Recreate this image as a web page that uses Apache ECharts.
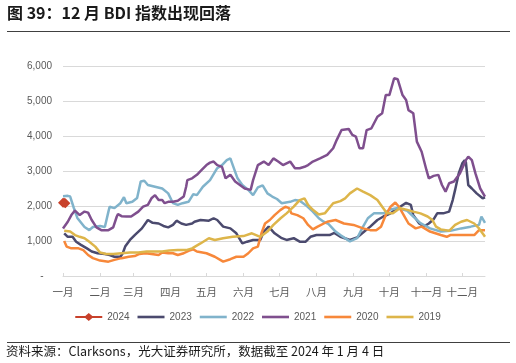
<!DOCTYPE html>
<html><head><meta charset="utf-8">
<script src="https://cdn.jsdelivr.net/npm/echarts@6/dist/echarts.min.js"></script>
<style>html,body{margin:0;padding:0;background:#fff}#c{width:516px;height:363px}</style>
</head><body><div id="c"></div>
<script>
// x values are day-of-year offsets (0 = 1 Jan)
const monthLabels = ['一月','二月','三月','四月','五月','六月','七月','八月','九月','十月','十一月','十二月'];
const monthStarts = [0,31,59,90,120,151,181,212,243,273,304,334];
const seriesNames = ['2024','2023','2022','2021','2020','2019'];
const seriesColors = ['#C8412B','#4B4A6E','#80B3CB','#7F4F8E','#F7883A','#DDB54A'];

const d2024 = [[0,2094],[1,2090],[2,2082]];
const d2023 = [[1,1220],[4,1120],[8,1120],[11,980],[15,890],[20,790],[24,700],[29,650],[35,630],[39,600],[43,550],[48,550],[50,650],[52,840],[56,1030],[60,1170],[66,1360],[71,1600],[75,1520],[80,1500],[84,1430],[88,1390],[92,1460],[95,1580],[99,1500],[103,1460],[108,1500],[110,1550],[115,1600],[122,1580],[126,1650],[129,1600],[134,1410],[140,1360],[145,1220],[150,930],[154,980],[159,1030],[165,1030],[168,1270],[172,1410],[177,1220],[183,1080],[187,1030],[193,1080],[198,980],[203,980],[207,1120],[212,1170],[218,1170],[223,1170],[227,1230],[232,1120],[240,1030],[246,1100],[252,1270],[257,1410],[263,1600],[268,1700],[274,1790],[278,1890],[282,1980],[287,2090],[291,2030],[293,1740],[298,1500],[302,1420],[306,1500],[310,1620],[313,1790],[318,1790],[323,1840],[326,2170],[328,2460],[331,2930],[334,3220],[336,3310],[337,3250],[339,2600],[342,2500],[346,2360],[351,2220],[353,2250]];
const d2022 = [[0,2280],[4,2290],[6,2270],[9,1950],[12,1660],[18,1400],[22,1310],[25,1400],[31,1430],[35,1400],[38,1840],[39,1980],[43,1940],[48,2080],[51,2250],[53,2080],[58,2120],[62,2230],[65,2700],[68,2720],[71,2600],[77,2550],[83,2500],[88,2360],[92,2080],[96,2030],[100,2080],[105,2120],[109,2340],[112,2310],[117,2550],[123,2740],[129,3080],[133,3170],[137,3310],[140,3360],[142,3170],[146,2790],[150,2600],[155,2460],[159,2310],[163,2530],[167,2590],[171,2360],[175,2270],[179,2200],[183,2080],[190,2120],[194,2170],[198,2150],[204,2000],[209,1840],[214,1650],[218,1550],[222,1490],[228,1270],[232,1170],[240,990],[246,1080],[251,1410],[255,1650],[260,1790],[268,1790],[274,1900],[280,1940],[288,1860],[293,1700],[299,1510],[307,1360],[316,1270],[324,1290],[333,1360],[341,1410],[348,1460],[350,1700],[353,1520]];
const d2021 = [[0,1360],[1,1390],[4,1550],[7,1740],[10,1870],[14,1740],[18,1840],[21,1810],[24,1600],[28,1390],[32,1310],[38,1310],[42,1390],[45,1700],[46,1770],[49,1710],[53,1700],[57,1700],[63,1840],[67,1980],[71,2030],[74,2220],[77,2310],[80,2170],[83,2170],[85,2080],[88,2120],[92,2120],[96,2150],[101,2270],[103,2550],[104,2740],[108,2790],[112,2890],[116,3030],[120,3170],[123,3240],[126,3270],[129,3170],[133,3120],[136,2790],[140,2890],[144,2700],[148,2600],[152,2500],[157,2460],[159,2740],[163,3170],[168,3270],[172,3170],[176,3360],[180,3270],[184,3170],[190,3270],[194,3080],[198,3080],[202,3120],[205,3170],[209,3270],[215,3360],[221,3460],[226,3650],[229,3890],[233,4170],[239,4200],[242,4030],[245,3980],[248,3650],[251,3650],[254,4170],[258,4220],[263,4550],[267,4650],[270,5170],[273,5170],[277,5650],[280,5620],[284,5170],[287,5030],[289,4740],[293,4650],[296,3840],[300,3550],[304,3030],[306,2790],[310,2860],[314,2890],[317,2600],[320,2410],[323,2650],[327,2700],[332,2930],[337,3310],[339,3410],[342,3310],[345,2930],[349,2500],[353,2270]];
const d2020 = [[1,1000],[3,840],[7,790],[13,790],[17,740],[21,600],[25,510],[31,440],[38,410],[43,460],[49,510],[55,550],[60,570],[64,630],[69,650],[74,630],[80,600],[83,670],[88,650],[92,650],[96,600],[101,650],[105,720],[109,760],[112,700],[120,650],[127,550],[134,410],[140,480],[145,550],[151,550],[155,650],[159,790],[163,840],[166,1220],[169,1500],[173,1600],[177,1740],[182,1890],[186,1980],[189,1940],[191,1790],[196,1740],[201,1650],[205,1460],[209,1330],[213,1410],[221,1550],[228,1600],[235,1500],[243,1460],[251,1360],[257,1310],[262,1310],[266,1410],[270,1740],[274,1980],[278,2100],[281,1980],[285,1740],[289,1500],[295,1360],[300,1410],[307,1270],[316,1170],[321,1120],[324,1170],[330,1170],[338,1170],[344,1170],[348,1310],[353,1310]];
const d2019 = [[1,1290],[6,1270],[10,1170],[14,1120],[18,1080],[22,980],[27,840],[31,670],[36,630],[42,630],[49,650],[56,670],[63,670],[70,700],[77,700],[83,700],[89,730],[96,740],[103,740],[108,790],[115,930],[122,1080],[127,1030],[134,1080],[142,1120],[151,1140],[158,1220],[165,1120],[171,1270],[176,1460],[182,1650],[187,1790],[193,1980],[198,2170],[202,2220],[205,2030],[209,1890],[214,1760],[219,1790],[226,2080],[232,2140],[236,2220],[240,2360],[246,2500],[251,2410],[257,2310],[263,2170],[267,1980],[271,1790],[276,1790],[282,1940],[288,1890],[293,1840],[299,1790],[305,1700],[309,1600],[312,1410],[316,1330],[323,1290],[328,1460],[333,1550],[338,1600],[344,1500],[348,1360],[352,1170],[353,1120]];
const seriesData = [d2024,d2023,d2022,d2021,d2020,d2019];

const chart = echarts.init(document.getElementById('c'), null, {renderer:'canvas'});
const labelFont = "'Liberation Sans','Noto Sans CJK SC',sans-serif";
const cjkFont = "'Noto Sans CJK SC','Noto Sans',sans-serif";

const lineIcon = 'path://M0,2.7L27,2.7L27,5.3L0,5.3Z M0,0L0.01,0 M0,8L0.01,8';
const diamondIcon = 'path://M0,3L10,3L13.5,0L17,3L27,3L27,5L17,5L13.5,8L10,5L0,5Z';

const series = seriesNames.map((n,i)=>{
  const is24 = i===0;
  return {
    name:n, type:'line', data:seriesData[i],
    symbol: is24 ? 'diamond' : 'none',
    symbolSize: is24 ? 10 : 0,
    showSymbol: is24,
    itemStyle:{color:seriesColors[i]},
    lineStyle:{color:seriesColors[i], width:2.5},
    z: is24 ? 10 : 2 + i*0.1,
    animation:false
  };
});

chart.setOption({
  animation:false,
  grid:{left:63,right:31,top:66,bottom:87,containLabel:false},
  xAxis:{
    type:'value', min:0, max:353,
    axisLine:{show:true,lineStyle:{color:'#D9D9D9',width:1}},
    axisTick:{show:true,inside:true,length:3,customValues:monthStarts,lineStyle:{color:'#D9D9D9'}},
    axisLabel:{customValues:monthStarts,color:'#595959',fontSize:10.5,fontFamily:cjkFont,margin:11,
      formatter:v=>{const k=monthStarts.indexOf(Math.round(v));return k>=0?monthLabels[k]:'';}},
    splitLine:{show:false}
  },
  yAxis:{
    type:'value', min:0, max:6000, interval:1000,
    axisLine:{show:false}, axisTick:{show:false},
    axisLabel:{color:'#595959',fontSize:10,fontFamily:labelFont,margin:11,
      formatter:v=>v===0?'-   ':v.toLocaleString('en-US')},
    splitLine:{lineStyle:{color:'#D9D9D9',width:1}}
  },
  legend:{
    data:seriesNames.map((n,i)=>({name:n, icon: i===0 ? diamondIcon : 'path://M0,2.7L27,2.7L27,5.3L0,5.3Z'})),
    left:'center', top:307, itemWidth:27, itemHeight:8, itemGap:8,
    textStyle:{color:'#595959',fontSize:10,fontFamily:labelFont}
  },
  graphic:[
    {type:'text',left:7,top:5,style:{text:'图 39：12 月 BDI 指数出现回落',font:"bold 16px 'Noto Sans CJK SC'",fill:'#1a1a1a'}},
    {type:'line',shape:{x1:7,y1:31.5,x2:510,y2:31.5},style:{stroke:'#404040',lineWidth:1}},
    {type:'line',shape:{x1:7,y1:342.5,x2:510,y2:342.5},style:{stroke:'#404040',lineWidth:1}},
    {type:'text',left:6,top:345,style:{text:'资料来源：Clarksons，光大证券研究所，数据截至 2024 年 1 月 4 日',font:"12.5px 'Noto Sans CJK SC'",fill:'#1a1a1a'}}
  ],
  series:series
});
</script></body></html>
